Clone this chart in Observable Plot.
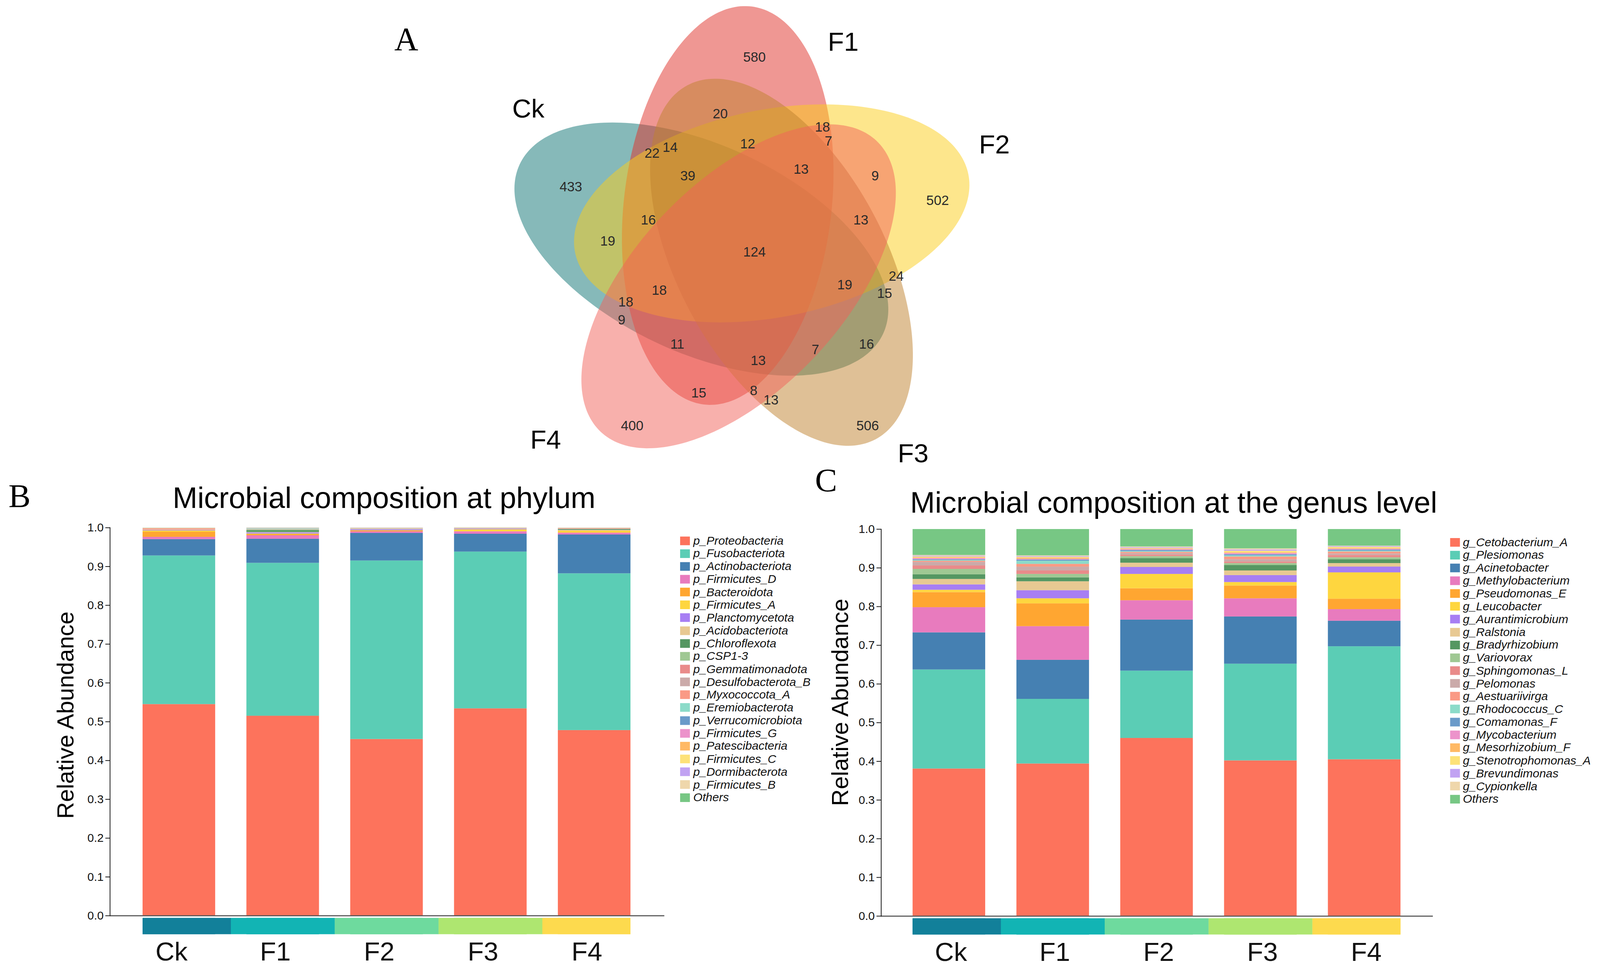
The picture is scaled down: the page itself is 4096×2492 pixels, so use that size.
<!DOCTYPE html>
<html>
<head>
<meta charset="utf-8">
<script src="https://cdn.jsdelivr.net/npm/d3@7"></script>
<script src="https://cdn.jsdelivr.net/npm/@observablehq/plot@0.6"></script>
<style>
html, body { margin: 0; padding: 0; background: #fff; overflow: hidden; }
#root { position: relative; width: 4251px; height: 2586px; transform: scale(0.963); transform-origin: 0 0;
        font-family: "Liberation Sans", Arial, sans-serif; color: #111; }
#root > * { position: absolute; }
</style>
</head>
<body>
<div id="root"></div>
<script>
// ---------------- DATA ----------------
const samples = ["Ck", "F1", "F2", "F3", "F4"];
const stripColors = ["#12809a", "#12b4b4", "#6eda9e", "#aee670", "#fdda4e"];

const taxaPhylum = ["p_Proteobacteria","p_Fusobacteriota","p_Actinobacteriota","p_Firmicutes_D","p_Bacteroidota","p_Firmicutes_A","p_Planctomycetota","p_Acidobacteriota","p_Chloroflexota","p_CSP1-3","p_Gemmatimonadota","p_Desulfobacterota_B","p_Myxococcota_A","p_Eremiobacterota","p_Verrucomicrobiota","p_Firmicutes_G","p_Patescibacteria","p_Firmicutes_C","p_Dormibacterota","p_Firmicutes_B","Others"];
const taxaGenus = ["g_Cetobacterium_A","g_Plesiomonas","g_Acinetobacter","g_Methylobacterium","g_Pseudomonas_E","g_Leucobacter","g_Aurantimicrobium","g_Ralstonia","g_Bradyrhizobium","g_Variovorax","g_Sphingomonas_L","g_Pelomonas","g_Aestuariivirga","g_Rhodococcus_C","g_Comamonas_F","g_Mycobacterium","g_Mesorhizobium_F","g_Stenotrophomonas_A","g_Brevundimonas","g_Cypionkella","Others"];
const taxaColors = ["#fd735c","#5bcdb5","#4580b2","#e87bbe","#ffa631","#fed63f","#a77ef3","#e8c992","#559762","#9fc893","#e98b8a","#cbaaa9","#fa9a85","#8cdbc9","#6a9ac9","#ec93cb","#ffb965","#fde278","#c1a2f2","#efd7ab","#77c784"];

// relative abundance, phylum level (order = taxaPhylum)
const phylumCk = [0.545,0.383,0.042,0.006,0.013,0.003,0.001,0.001,0.0002,0.0002,0.0008,0.0003,0.0025,0.0001,0.0001,0.0001,0.0005,0.0002,0.0002,0.0002,0.0003];
const phylumF1 = [0.515,0.394,0.062,0.009,0.003,0.0015,0.003,0.001,0.0045,0.002,0.0005,0.0005,0.0005,0.0015,0.0003,0.0003,0.0003,0.0003,0.0005,0.0002,0.0003];
const phylumF2 = [0.455,0.460,0.071,0.004,0.002,0.001,0.0025,0.001,0.0003,0.0003,0.0003,0.0005,0.0003,0.0002,0.0002,0.0002,0.0002,0.0002,0.0004,0.0004,0.0002];
const phylumF3 = [0.534,0.404,0.046,0.006,0.0005,0.005,0.0015,0.001,0.0001,0.0001,0.0002,0.0002,0.0002,0.0001,0.0001,0.0001,0.0002,0.0003,0.0003,0.0005,0.0002];
const phylumF4 = [0.478,0.404,0.100,0.0045,0.0013,0.005,0.0008,0.0005,0.002,0.0004,0.0003,0.0003,0.0015,0.0001,0.0001,0.0001,0.0002,0.0002,0.0002,0.0002,0.0002];

// relative abundance, genus level (order = taxaGenus)
const genusCk = [0.381,0.256,0.096,0.065,0.039,0.006,0.014,0.014,0.012,0.014,0.009,0.009,0.003,0.002,0.002,0.003,0.002,0.002,0.002,0.002,0.067];
const genusF1 = [0.394,0.167,0.101,0.087,0.059,0.013,0.021,0.023,0.010,0.009,0.009,0.010,0.007,0.008,0.003,0.002,0.003,0.002,0.002,0.002,0.068];
const genusF2 = [0.460,0.174,0.132,0.050,0.031,0.037,0.018,0.011,0.012,0.005,0.004,0.004,0.003,0.002,0.003,0.002,0.002,0.001,0.002,0.002,0.045];
const genusF3 = [0.402,0.250,0.122,0.047,0.033,0.009,0.018,0.012,0.014,0.005,0.004,0.006,0.007,0.003,0.003,0.003,0.002,0.004,0.003,0.003,0.050];
const genusF4 = [0.405,0.292,0.066,0.030,0.027,0.068,0.015,0.009,0.010,0.005,0.006,0.004,0.005,0.002,0.003,0.002,0.002,0.003,0.002,0.001,0.043];

const yTicks = [0,0.1,0.2,0.3,0.4,0.5,0.6,0.7,0.8,0.9,1.0];

// Venn diagram (A)
const vennSets = ["Ck", "F1", "F2", "F3", "F4"];
const vennColors = ["#0d7373", "#df2f27", "#fbcd19", "#bf812d", "#f16159"];
const ellipseCx = [1864, 1934, 2051, 2077, 1963];
const ellipseCy = [662, 546, 567, 697, 761];
const ellipseAngle = [25, 96.8, -11.2, 62, 133.5];
const ellipseA = [533, 533, 533, 533, 533];
const ellipseB = [276, 276, 276, 276, 276];
const setLabelX = [1404, 2241, 2643, 2427, 1450];
const setLabelY = [290, 112, 385, 1207, 1170];
const vennCounts = [580,20,18,7,12,14,22,13,39,9,433,502,16,13,19,124,24,19,18,15,18,9,11,16,7,13,15,8,13,400,506];
const vennCountX = [2005,1914,2186,2202,1987,1781,1733,2129,1828,2326,1517,2492,1723,2288,1615,2005,2382,2245,1752,2351,1663,1652,1800,2303,2167,2015,1857,2003,2049,1680,2306];
const vennCountY = [152,303,338,375,383,392,408,450,468,468,497,533,585,585,641,670,735,757,772,780,803,851,915,915,930,959,1045,1039,1064,1132,1132];

// ---------------- LAYOUT ----------------
const FONT = '"Liberation Sans", Arial, Helvetica, sans-serif';
const SERIF = '"Liberation Serif", "Times New Roman", serif';
const root = document.getElementById("root");
const barPad = 0.302;
const stripY = [-0.006, -0.048];

function place(node, left, top) {
  node.style.position = "absolute";
  node.style.left = left + "px";
  node.style.top = top + "px";
  root.appendChild(node);
  return node;
}
function addText(txt, cx, cy, size, opts = {}) {
  const d = document.createElement("div");
  d.textContent = txt;
  Object.assign(d.style, {
    fontSize: size + "px", lineHeight: "1", whiteSpace: "nowrap",
    fontFamily: opts.font || FONT, fontStyle: opts.italic ? "italic" : "normal",
    color: opts.color || "#000",
    transform: "translate(-50%,-50%)" + (opts.rotate ? " rotate(-90deg)" : "")
  });
  return place(d, cx, cy);
}

// ---------- Venn ----------
const ellPts = [];
vennSets.forEach((s, i) => {
  const th = ellipseAngle[i] * Math.PI / 180;
  for (let k = 0; k < 240; k++) {
    const t = 2 * Math.PI * k / 240;
    const ex = ellipseA[i] * Math.cos(t), ey = ellipseB[i] * Math.sin(t);
    ellPts.push({set: s,
      x: ellipseCx[i] + ex * Math.cos(th) - ey * Math.sin(th),
      y: ellipseCy[i] + ex * Math.sin(th) + ey * Math.cos(th)});
  }
});
const venn = Plot.plot({
  width: 1450, height: 1280, margin: 0,
  style: {fontFamily: FONT, background: "transparent", overflow: "visible"},
  x: {domain: [1300, 2750], range: [0, 1450], axis: null},
  y: {domain: [0, 1280], range: [0, 1280], axis: null},
  color: {type: "ordinal", domain: vennSets, range: vennColors},
  marks: [
    Plot.line(ellPts, {x: "x", y: "y", z: "set", fill: "set", fillOpacity: 0.5, stroke: "none", curve: "linear-closed"}),
    Plot.text(vennCounts, {x: vennCountX, y: vennCountY, text: d => String(d), fontSize: 36, fill: "#2a2a2a"}),
    Plot.text(vennSets, {x: setLabelX, y: setLabelY, text: d => d, fontSize: 70, fill: "#000"})
  ]
});
place(venn, 1300, 0);

// ---------- stacked bar charts ----------
function stackedChart({taxa, values, width, height, marginLeft, marginRight, marginTop, marginBottom, xRange, labelDx}) {
  const rows = [];
  samples.forEach((s, si) => taxa.forEach((t, ti) => rows.push({sample: s, taxon: t, value: values[si][ti]})));
  const step = (xRange[1] - xRange[0]) / (samples.length - barPad);
  const gapHalf = step * barPad / 2;
  const stripOpts = {x: d => d, y1: stripY[0], y2: stripY[1], fill: d => d};
  return Plot.plot({
    width, height, marginLeft, marginRight, marginTop, marginBottom,
    style: {fontFamily: FONT, color: "#111", background: "transparent", overflow: "visible"},
    x: {domain: samples, range: xRange, paddingInner: barPad, paddingOuter: 0},
    y: {domain: [0, 1]},
    color: {type: "ordinal", domain: [...taxa, ...samples], range: [...taxaColors, ...stripColors]},
    marks: [
      Plot.barY(rows, {x: "sample", y: "value", fill: "taxon", order: taxa}),
      Plot.barY(samples, stripOpts),
      Plot.barY(samples.slice(1), {...stripOpts, insetLeft: -gapHalf}),
      Plot.barY(samples.slice(0, -1), {...stripOpts, insetRight: -gapHalf}),
      Plot.ruleY([0], {stroke: "#555", strokeWidth: 3}),
      Plot.frame({anchor: "left", stroke: "#111", strokeWidth: 2}),
      Plot.axisY(yTicks, {tickFormat: d3.format(".1f"), tickSize: 12, tickPadding: 5, fontSize: 31, label: null, strokeWidth: 2}),
      Plot.axisX({tickSize: 0, tickPadding: 69, fontSize: 70, label: null, dx: labelDx})
    ]
  });
}

const chartB = stackedChart({
  taxa: taxaPhylum, values: [phylumCk, phylumF1, phylumF2, phylumF3, phylumF4],
  width: 1800, height: 1236, marginLeft: 292, marginRight: 34, marginTop: 53, marginBottom: 151,
  xRange: [378, 1677], labelDx: -20
});
place(chartB, 0, 1350);

const chartC = stackedChart({
  taxa: taxaGenus, values: [genusCk, genusF1, genusF2, genusF3, genusF4],
  width: 1700, height: 1236, marginLeft: 192, marginRight: 41, marginTop: 57, marginBottom: 150,
  xRange: [276, 1573], labelDx: 5
});
place(chartC, 2150, 1350);

// ---------- legends ----------
function legend(taxa, swX, textX, y0, dy) {
  taxa.forEach((t, i) => {
    const cy = y0 + i * dy;
    const sw = document.createElement("div");
    Object.assign(sw.style, {width: "26px", height: "23px", background: taxaColors[i]});
    place(sw, swX, cy - 11.5);
    const tx = document.createElement("div");
    tx.textContent = t;
    Object.assign(tx.style, {fontSize: "31.5px", lineHeight: "1", fontStyle: "italic", whiteSpace: "nowrap",
      fontFamily: FONT, color: "#111", transform: "translateY(-50%)"});
    place(tx, textX, cy);
  });
}
legend(taxaPhylum, 1808, 1843, 1438, 34.15);
legend(taxaGenus, 3855, 3889, 1442, 34.15);

// ---------- titles & labels ----------
addText("A", 1080, 105, 88, {font: SERIF});
addText("B", 52, 1320, 88, {font: SERIF});
addText("C", 2196, 1278, 88, {font: SERIF});
addText("Microbial composition at phylum", 1021, 1324, 79);
addText("Microbial composition at the genus level", 3120, 1336, 79);
addText("Relative Abundance", 174, 1902, 62, {rotate: true});
addText("Relative Abundance", 2233, 1868, 62, {rotate: true});
</script>
</body>
</html>
